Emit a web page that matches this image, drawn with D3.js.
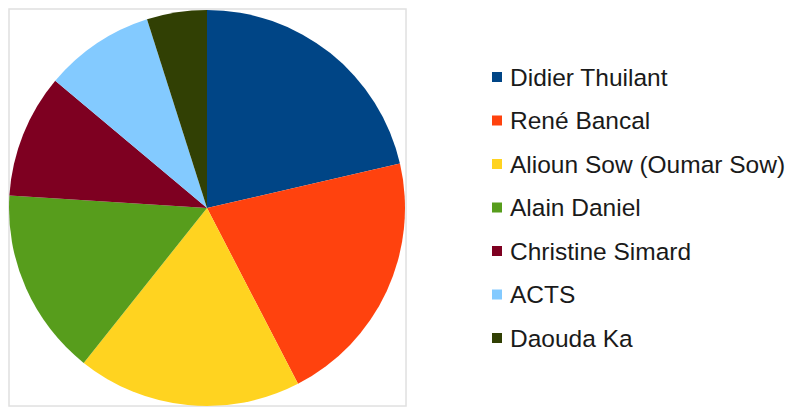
<!DOCTYPE html>
<html>
<head>
<meta charset="utf-8">
<script src="https://cdn.jsdelivr.net/npm/d3@7"></script>
<style>
  html, body { margin: 0; padding: 0; background: #fff; }
  svg { display: block; }
</style>
</head>
<body>
<svg id="chart" width="789" height="408"></svg>
<script>
// Candidates and their share of the vote (%)
const candidates = [
  "Didier Thuilant",
  "René Bancal",
  "Alioun Sow (Oumar Sow)",
  "Alain Daniel",
  "Christine Simard",
  "ACTS",
  "Daouda Ka"
];
const shares = [21.4, 21.0, 18.3, 15.3, 10.1, 9.0, 4.9];
const palette = ["#004586", "#ff420e", "#ffd320", "#579d1c", "#7e0021", "#83caff", "#314004"];

const svg = d3.select("#chart");

// Plot area frame
svg.append("rect")
  .attr("x", 9).attr("y", 9)
  .attr("width", 397).attr("height", 397)
  .attr("fill", "none")
  .attr("stroke", "#e0e0e0")
  .attr("stroke-width", 1.5);

const cx = 207, cy = 208, radius = 198;

const color = d3.scaleOrdinal().domain(candidates).range(palette);

const pie = d3.pie().sort(null).value(d => d.value);
const arc = d3.arc().innerRadius(0).outerRadius(radius);

const data = candidates.map((name, i) => ({ name, value: shares[i] }));

svg.append("g")
  .attr("transform", `translate(${cx},${cy})`)
  .selectAll("path")
  .data(pie(data))
  .join("path")
  .attr("d", arc)
  .attr("fill", d => color(d.data.name));

// Legend
const legendY = d3.scalePoint()
  .domain(candidates)
  .range([77, 338]);

const legend = svg.append("g")
  .selectAll("g")
  .data(candidates)
  .join("g")
  .attr("transform", d => `translate(492,${legendY(d)})`);

legend.append("rect")
  .attr("x", 0).attr("y", -5)
  .attr("width", 10).attr("height", 10)
  .attr("fill", d => color(d));

legend.append("text")
  .attr("x", 18)
  .attr("y", 0)
  .attr("dy", "0.35em")
  .attr("font-family", "Liberation Sans, Arial, sans-serif")
  .attr("font-size", 24.5)
  .attr("fill", "#1a1a1a")
  .text(d => d);
</script>
</body>
</html>
